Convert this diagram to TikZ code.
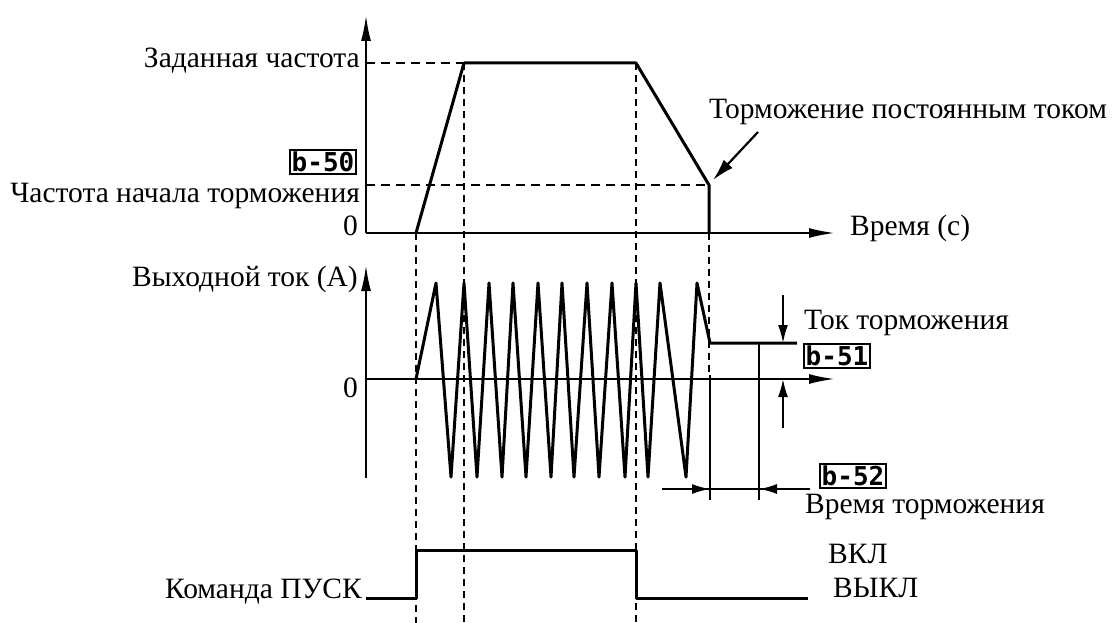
\documentclass[tikz,border=0pt]{standalone}
\usepackage{fontspec}
\setmainfont{Liberation Serif}
\newfontfamily\ledfont{DejaVu Sans Mono}
\usepackage{tikz}
\usetikzlibrary{arrows.meta,positioning}
\tikzset{
  axisline/.style={line width=2.2pt,-{Latex[length=26pt,width=10pt]}},
  curve/.style={line width=3pt,line join=round},
  guide/.style={line width=2pt,dash pattern=on 7pt off 5pt},
  levelline/.style={line width=2.6pt,dash pattern=on 9pt off 6pt},
  dimline/.style={line width=2pt},
  dimarr/.style={line width=2pt,-{Latex[length=18pt,width=10pt]}},
  ptrarr/.style={line width=2.2pt,-{Latex[length=22pt,width=12pt]}},
  txt/.style={inner sep=0pt},
  ledbox/.style={draw,line width=2pt,inner sep=1.5pt,
                 font=\ledfont\bfseries\fontsize{26}{26}\selectfont}
}

\begin{document}
\begin{tikzpicture}[x=1pt,y=-1pt,font=\fontsize{29.5}{34}\selectfont]
    \useasboundingbox (0,0) rectangle (1115,623);
    % frequency plot
    \coordinate (O1) at (366,233);
    \coordinate (Y1) at (366,15);
    \coordinate (X1) at (835,233);
    \coordinate (A) at (416,233);
    \coordinate (B) at (464,63);
    \coordinate (C) at (636,63);
    \coordinate (D) at (709,185);
    \coordinate (E) at (709,233);
    \draw[axisline] (O1) -- (Y1);
    \draw[axisline] (O1) -- (X1);
    \draw[levelline] (O1 |- B) -- (B);
    \draw[levelline] (O1 |- D) -- (D);
    \draw[curve] (A) -- (B) -- (C) -- (D) -- (E);
    \node[txt,anchor=base east] (fset) at (360,68) {Заданная частота};
    \node[txt,anchor=base east] (fbrk) at (360,202) {Частота начала торможения};
    \node[ledbox] (b50) at (323,162) {b-50};
    \node[txt,anchor=base east] (zero1) at (358,235) {0};
    \node[txt,anchor=base west] (tsec) at (850,235) {Время (с)};
    \node[txt,anchor=base west] (dcbrk) at (709,118) {Торможение постоянным током};
    \coordinate (P) at (758,132);
    \draw[ptrarr] (P) -- ([shift={(4,-5)}]D);
    % output current plot
    \coordinate (O2) at (366,379);
    \coordinate (Y2) at (366,265);
    \coordinate (Y2b) at (366,478);
    \coordinate (X2) at (835,379);
    \coordinate (F) at (710,343);
    \coordinate (G) at (797,343);
    \draw[axisline] (Y2b) -- (Y2);
    \draw[axisline] (O2) -- (X2);
    \draw[curve] (416,379) \foreach \x/\y in {436/283,451/477,464/283,477/477,
        489/283,502/477,513/283,526/477,538/283,551/477,562/283,574/477,
        587/283,599/477,612/283,625/477,636/283,648/477,660/283,686/477,
        697/283} { -- (\x,\y) } -- (F) -- (G);
    \node[txt,anchor=base east] (iout) at (358,286) {Выходной ток (А)};
    \node[txt,anchor=base east] (zero2) at (358,397) {0};
    % braking current and time
    \coordinate (H1) at (783,295);
    \coordinate (H2) at (783,428);
    \draw[dimarr] (H1) -- (H1 |- F);
    \draw[dimarr] (H2) -- (H2 |- O2);
    \coordinate (T1) at (710,500);
    \coordinate (T2) at (759,500);
    \draw[dimline] (710,375) -- (T1);
    \draw[dimline] (759,343) -- (T2);
    \coordinate (L1) at (662,489);
    \coordinate (L2) at (810,489);
    \draw[dimline] (L1) -- (L2);
    \draw[dimarr] (L1) -- (710,489);
    \draw[dimarr] (L2) -- (759,489);
    \node[txt,anchor=base west] (ibrk) at (804,329) {Ток торможения};
    \node[ledbox] (b51) at (837,356) {b-51};
    \node[ledbox] (b52) at (853,476) {b-52};
    \node[txt,anchor=base west] (tbrk) at (805,513) {Время торможения};
    % run command
    \coordinate (R0) at (366,598);
    \coordinate (R1) at (416,598);
    \coordinate (R2) at (416,550);
    \coordinate (R3) at (636,550);
    \coordinate (R4) at (636,598);
    \coordinate (R5) at (808,598);
    \draw[curve] (R0) -- (R1) -- (R2) -- (R3) -- (R4) -- (R5);
    \node[txt,anchor=base east] (run) at (362,598) {Команда ПУСК};
    \node[txt,anchor=base west] (on) at (828,563) {ВКЛ};
    \node[txt,anchor=base west] (off) at (833,597) {ВЫКЛ};
    % guide lines
    \draw[guide] (A) -- (416,623);
    \draw[guide] (B) -- (464,623);
    \draw[guide] (C) -- (636,623);
    \draw[guide] (E) -- (709,375);
\end{tikzpicture}
\end{document}
